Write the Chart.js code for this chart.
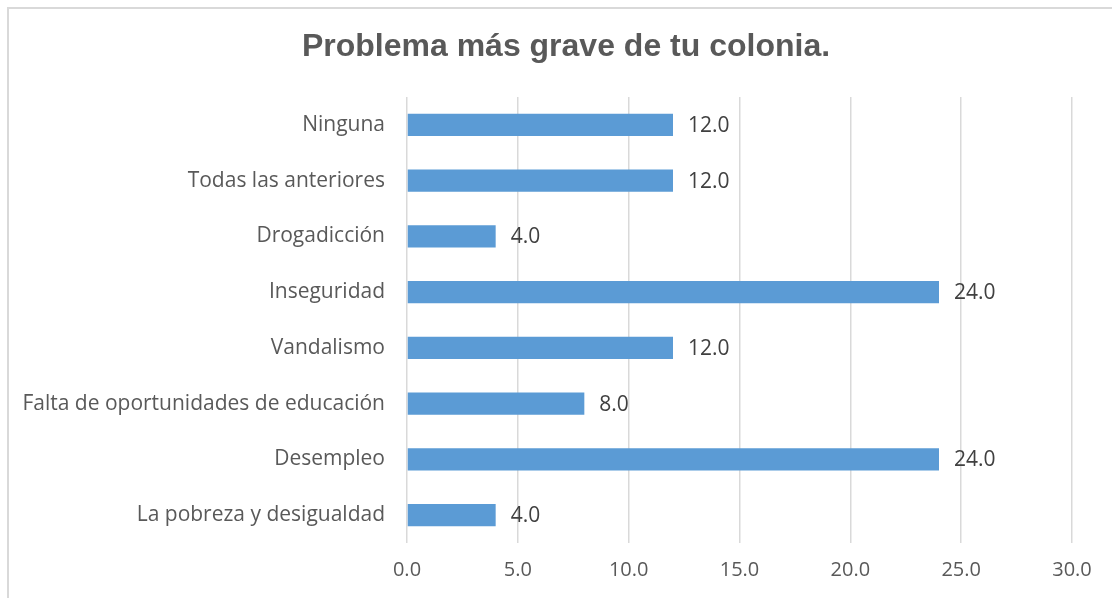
<!DOCTYPE html>
<html>
<head>
<meta charset="utf-8">
<script src="https://cdn.jsdelivr.net/npm/chart.js@4/dist/chart.umd.min.js"></script>
<style>
  body { margin: 0; background: #fff; }
  #marco { position: absolute; left: 7px; top: 7px; width: 1120px; height: 600px;
           border-left: 2px solid #d9d9d9; border-top: 2px solid #d9d9d9; }
  #lienzo { position: absolute; left: 0; top: 0; }
</style>
</head>
<body>
<div id="marco"></div>
<canvas id="lienzo" width="1112" height="598"></canvas>
<script>
// Datos del gráfico
const titulo = 'Problema más grave de tu colonia.';
const categorias = [
    'Ninguna',
    'Todas las anteriores',
    'Drogadicción',
    'Inseguridad',
    'Vandalismo',
    'Falta de oportunidades de educación',
    'Desempleo',
    'La pobreza y desigualdad'
];
const valores = [12, 12, 4, 24, 12, 8, 24, 4];
const ejeMin = 0;
const ejeMax = 30;
const ejePaso = 5;

// Título centrado sobre todo el gráfico (como en Excel)
const tituloGrafico = {
    id: 'tituloGrafico',
    afterDraw(chart) {
        const ctx = chart.ctx;
        ctx.save();
        ctx.font = 'bold 32px Arial, "Liberation Sans"';
        ctx.fillStyle = '#595959';
        ctx.textAlign = 'center';
        ctx.textBaseline = 'middle';
        ctx.fillText(titulo, 566, 47);
        ctx.restore();
    }
};

// Etiquetas de valor a la derecha de cada barra
const etiquetasValor = {
    id: 'etiquetasValor',
    afterDatasetsDraw(chart) {
        const ctx = chart.ctx;
        const meta = chart.getDatasetMeta(0);
        ctx.save();
        ctx.font = '21px "Open Sans"';
        ctx.fillStyle = '#404040';
        ctx.textAlign = 'left';
        ctx.textBaseline = 'middle';
        meta.data.forEach((barra, i) => {
            ctx.fillText(valores[i].toFixed(1), barra.x + 15, barra.y + 1);
        });
        ctx.restore();
    }
};

const ctx = document.getElementById('lienzo').getContext('2d');
new Chart(ctx, {
    type: 'bar',
    data: {
        labels: categorias,
        datasets: [{
            data: valores,
            backgroundColor: '#5b9bd5',
            categoryPercentage: 1,
            barPercentage: 0.4
        }]
    },
    options: {
        indexAxis: 'y',
        responsive: false,
        animation: false,
        layout: { padding: { left: 0, right: 40, top: 97, bottom: 0 } },
        plugins: {
            legend: { display: false },
            tooltip: { enabled: false },
            title: { display: false }
        },
        scales: {
            x: {
                min: ejeMin,
                max: ejeMax,
                ticks: {
                    stepSize: ejePaso,
                    color: '#595959',
                    font: { family: '"Open Sans"', size: 20 },
                    padding: 15,
                    callback: v => Number(v).toFixed(1)
                },
                grid: { color: '#d9d9d9', lineWidth: 1.5, drawTicks: false },
                border: { display: false },
                afterFit: s => { s.height = 55; }
            },
            y: {
                ticks: {
                    color: '#595959',
                    font: { family: '"Open Sans"', size: 21 },
                    padding: 22
                },
                grid: { display: false, drawTicks: false },
                border: { display: false },
                afterFit: s => { s.width = 407; }
            }
        }
    },
    plugins: [etiquetasValor, tituloGrafico]
});
</script>
</body>
</html>
